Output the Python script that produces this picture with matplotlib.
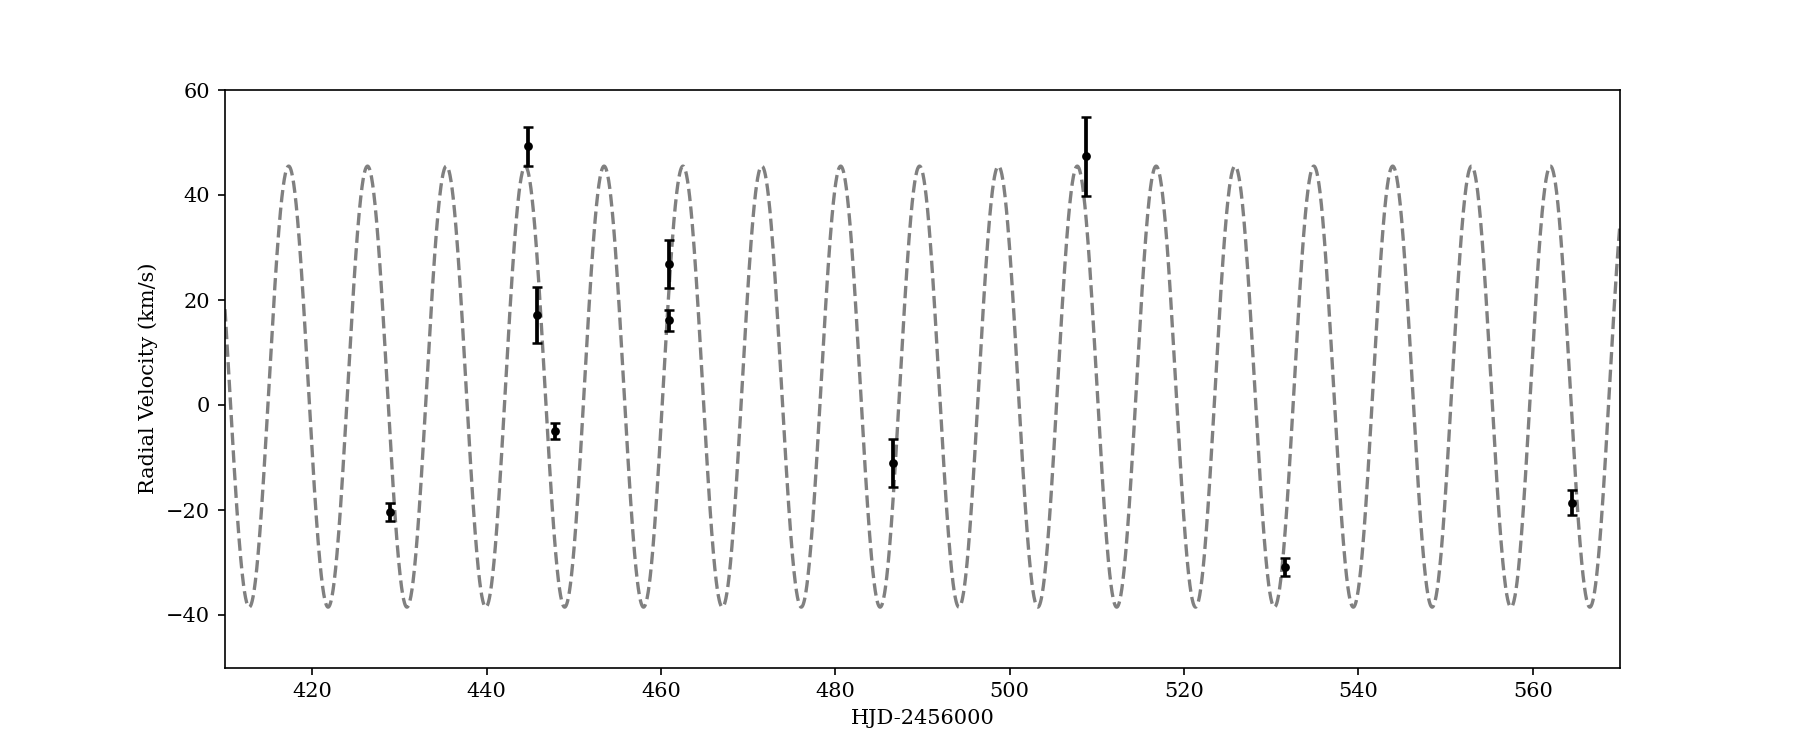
import numpy as np
import matplotlib
matplotlib.use('Agg')
import matplotlib.pyplot as plt

plt.rcParams['font.family'] = 'DejaVu Serif'

# observed radial velocities (HJD-2456000, km/s)
hjd = [428.9, 444.7, 445.8, 447.8, 460.9, 460.9, 486.6, 508.7, 531.6, 564.5]
rv = [-20.4, 49.3, 17.1, -4.9, 26.8, 16.1, -11.0, 47.4, -30.9, -18.6]
rv_err = [1.75, 3.7, 5.3, 1.5, 4.6, 2.0, 4.6, 7.5, 1.7, 2.4]

# circular orbit fit parameters
period = 9.045
t_peak = 417.3
semi_amp = 42.0
gamma = 3.5

t_model = np.linspace(410, 570, 4000)
rv_model = gamma + semi_amp * np.cos(2 * np.pi * (t_model - t_peak) / period)

fig = plt.figure(figsize=(12, 5), dpi=150)
ax = fig.add_subplot(111)
ax.plot(t_model, rv_model, '--', color='gray', lw=1.6)
ax.errorbar(hjd, rv, yerr=rv_err, fmt='o', color='black', ms=3.2,
            elinewidth=1.8, capsize=2.5, capthick=1.2)
ax.set_xlim(410, 570)
ax.set_ylim(-50, 60)
ax.set_xlabel('HJD-2456000')
ax.set_ylabel('Radial Velocity (km/s)')

plt.savefig('out.png', dpi=150)
